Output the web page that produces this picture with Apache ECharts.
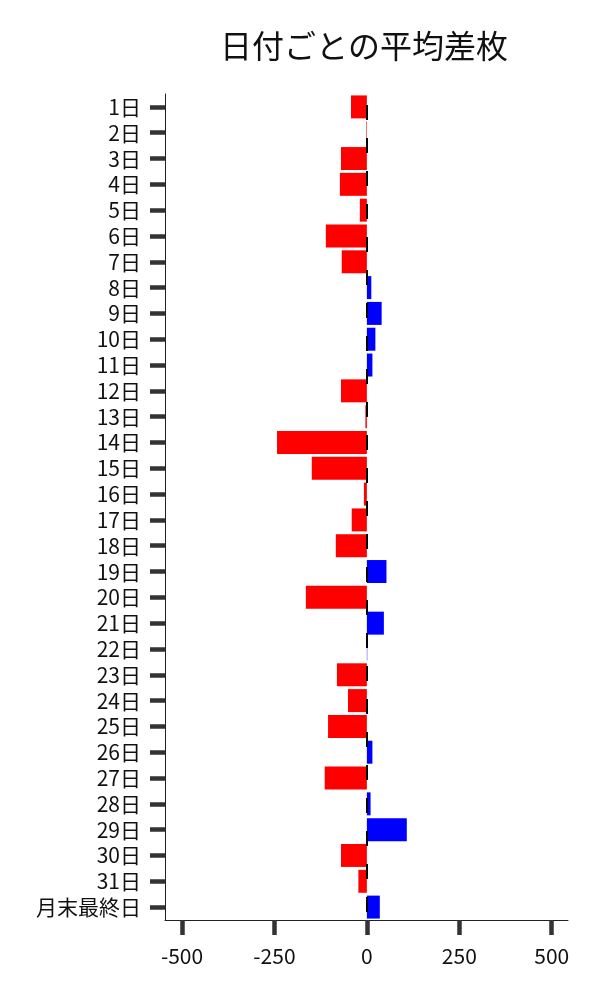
<!DOCTYPE html>
<html><head><meta charset="utf-8">
<script src="https://cdn.jsdelivr.net/npm/echarts@6/dist/echarts.min.js"></script>
<style>html,body{margin:0;padding:0;background:#fff}#c{width:600px;height:1000px}</style>
</head><body><div id="c"></div>
<script>
const titleText = '日付ごとの平均差枚';
const categories = ['1日','2日','3日','4日','5日','6日','7日','8日','9日','10日','11日','12日','13日','14日','15日','16日','17日','18日','19日','20日','21日','22日','23日','24日','25日','26日','27日','28日','29日','30日','31日','月末最終日'];
const values = [-43,-1.5,-70,-73,-19,-111,-68,12,40,23,15,-70,-4,-243,-149,-8,-41,-84,53,-165,46,1,-81,-51,-105,15,-114,10,108,-70,-23,35];
const xTicks = [-500,-250,0,250,500];

const font = '"Noto Sans CJK JP", "Noto Sans", sans-serif';
const chart = echarts.init(document.getElementById('c'), null, {renderer:'canvas'});
chart.setOption({
  animation:false,
  backgroundColor:'#fff',
  title:{text:titleText,left:215,top:25,textStyle:{fontFamily:font,fontSize:32,fontWeight:'normal',color:'#111'}},
  grid:{left:165,right:32,top:94,bottom:80,containLabel:false},
  xAxis:{type:'value',min:-546,max:544,
    axisLine:{show:true,onZero:false,lineStyle:{color:'#222',width:1}},
    axisTick:{show:true,length:15,lineStyle:{color:'#333',width:4.5},customValues:xTicks},
    axisLabel:{margin:26,fontFamily:font,fontSize:21,color:'#111',customValues:xTicks,formatter:v=>String(v)},
    splitLine:{show:false}},
  yAxis:{type:'category',data:categories,inverse:true,
    axisLine:{show:true,onZero:false,lineStyle:{color:'#222',width:1}},
    axisTick:{show:true,alignWithLabel:true,interval:0,length:15,lineStyle:{color:'#333',width:4.5}},
    axisLabel:{margin:24,interval:0,fontFamily:font,fontSize:21,color:'#111'}},
  series:[{type:'bar',data:values,barCategoryGap:'11%',
    itemStyle:{color:p=>p.value<0?'#ff0000':'#0000ff'},
    markLine:{silent:true,symbol:'none',label:{show:false},z:10,
      lineStyle:{color:'#000',width:2,type:[15,18],dashOffset:22},
      data:[{xAxis:0}]}}]
});
</script></body></html>
